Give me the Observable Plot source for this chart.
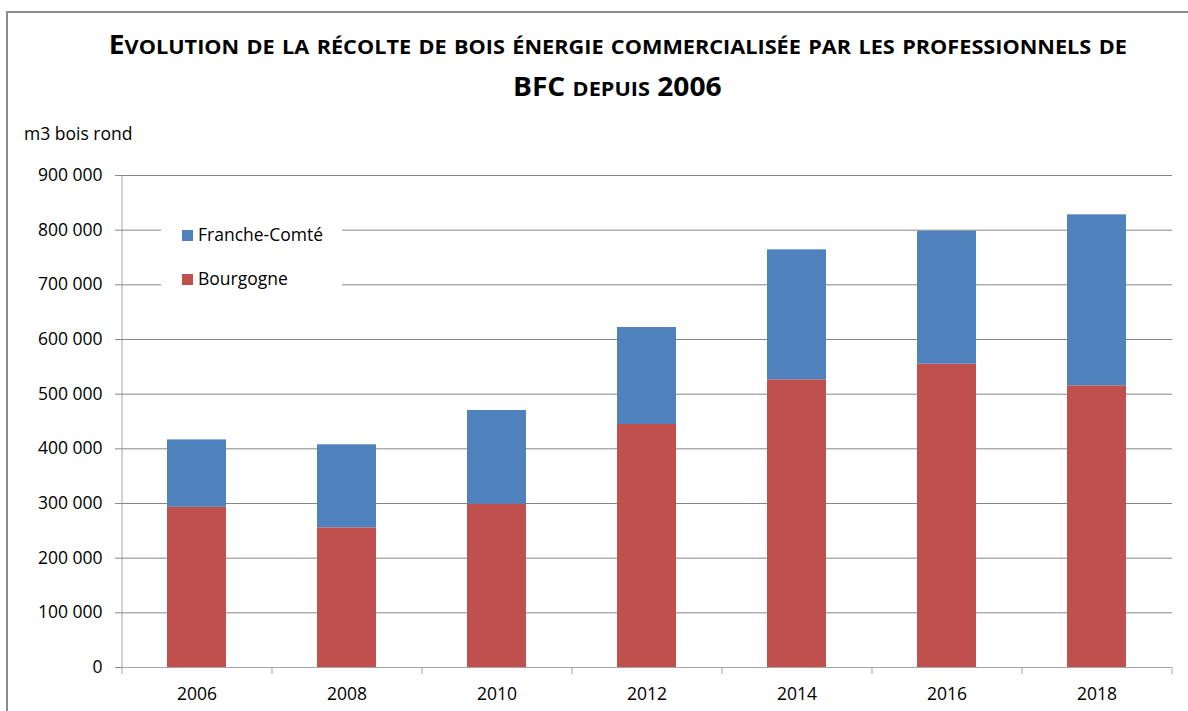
<!DOCTYPE html>
<html>
<head>
<meta charset="utf-8">
<script src="https://cdn.jsdelivr.net/npm/d3@7"></script>
<script src="https://cdn.jsdelivr.net/npm/@observablehq/plot@0.6"></script>
<style>
  body { margin: 0; background: #fff; }
  #wrap { position: relative; width: 1188px; height: 711px; overflow: hidden; font-family: "Open Sans", sans-serif; color: #000; background: #fff; }
  #border { position: absolute; left: 6px; top: 11px; width: 1300px; height: 800px; border-top: 2px solid #8c8c8c; border-left: 2px solid #8c8c8c; }
  .tline { position: absolute; left: 0; width: 1235px; text-align: center; font-weight: 700; font-size: 26px; line-height: 26px; white-space: nowrap; }
  .tline .in { display: inline-block; transform-origin: 50% 50%; }
  .sc { font-size: 0.77em; }
  #ylab { position: absolute; left: 24px; top: 124px; font-size: 17.5px; line-height: 18px; white-space: nowrap; }
  #chart { position: absolute; left: 0; top: 150px; z-index: 1; }
  #legend { position: absolute; left: 161px; top: 212px; width: 181px; height: 84px; background: #fff; z-index: 2; }
  .li { position: absolute; left: 21px; font-size: 17.5px; line-height: 18px; white-space: nowrap; }
  .sw { display: inline-block; width: 11px; height: 11px; margin-right: 5px; vertical-align: 0px; }
</style>
</head>
<body>
<div id="wrap">
  <div id="border"></div>
  <div class="tline" id="t1" style="top:31px"></div>
  <div class="tline" id="t2" style="top:73px"></div>
  <div id="ylab">m3 bois rond</div>
  <div id="chart"></div>
  <div id="legend"></div>
</div>
<script>
// ---- data ----
const years = ["2006", "2008", "2010", "2012", "2014", "2016", "2018"];
const bourgogne = [293000, 255500, 298700, 444500, 526300, 554800, 515300];
const francheComte = [123300, 151900, 171400, 177400, 237700, 243300, 312700];
const regions = ["Franche-Comté", "Bourgogne"];
const colors = ["#4F81BD", "#C0504D"];
const yTicks = [0, 100000, 200000, 300000, 400000, 500000, 600000, 700000, 800000, 900000];
const titleLine1 = "Evolution de la récolte de bois énergie commercialisée par les professionnels de";
const titleLine2 = "BFC depuis 2006";
const yLabel = "m3 bois rond";

// ---- title (Excel-like small caps) ----
function smallCaps(str) {
  let out = "", run = "";
  const flush = () => { if (run) { out += '<span class="sc">' + run.toUpperCase() + '</span>'; run = ""; } };
  for (const ch of str) {
    if (ch !== ch.toUpperCase() && ch === ch.toLowerCase()) run += ch;
    else { flush(); out += ch; }
  }
  flush();
  return out;
}
const t1 = document.getElementById("t1"), t2 = document.getElementById("t2");
t1.innerHTML = '<span class="in">' + smallCaps(titleLine1) + '</span>';
t2.innerHTML = '<span class="in">' + smallCaps(titleLine2) + '</span>';
document.getElementById("ylab").textContent = yLabel;
function fitTitle() {
  const in1 = t1.querySelector(".in"), in2 = t2.querySelector(".in");
  in1.style.transform = ""; in2.style.transform = "";
  const w = in1.getBoundingClientRect().width;
  const s = 1018 / w;
  in1.style.transform = "scaleX(" + s + ")";
  in2.style.transform = "scaleX(" + s + ")";
}
fitTitle();
if (document.fonts && document.fonts.ready) document.fonts.ready.then(fitTitle);

// ---- legend ----
const legend = document.getElementById("legend");
regions.forEach((r, i) => {
  const d = document.createElement("div");
  d.className = "li";
  d.style.top = (13 + i * 44) + "px";
  d.innerHTML = '<span class="sw" style="background:' + colors[i] + '"></span>' + r;
  legend.appendChild(d);
});

// ---- chart ----
const data = [];
years.forEach((y, i) => {
  data.push({year: y, region: "Bourgogne", value: bourgogne[i]});
  data.push({year: y, region: "Franche-Comté", value: francheComte[i]});
});
const fmt = d3.formatLocale({decimal: ",", thousands: " ", grouping: [3], currency: ["", ""]}).format(",");
const grid = "#868686";
const axisCol = "#a6a6a6";

const chart = Plot.plot({
  width: 1188,
  height: 561,
  marginTop: 25,
  marginBottom: 44,
  marginLeft: 122,
  marginRight: 16,
  style: {fontFamily: "Open Sans, sans-serif", fontSize: "17.5px", color: "#000", background: "transparent"},
  x: {domain: years, paddingInner: 0.606, paddingOuter: 0.303, align: 0.5, label: null},
  y: {domain: [0, 900000], label: null},
  color: {domain: regions, range: colors},
  marks: [
    Plot.gridY({ticks: yTicks, stroke: grid, strokeOpacity: 1}),
    Plot.barY(data, {x: "year", y: "value", fill: "region", order: ["Bourgogne", "Franche-Comté"]}),
    Plot.ruleY([0], {stroke: axisCol}),
    Plot.ruleX([years[0]], {stroke: axisCol, dx: -75}),
    Plot.axisY({ticks: yTicks, tickFormat: fmt, tickSize: 7, tickPadding: 13, stroke: grid, label: null}),
    Plot.axisX({tickSize: 7, stroke: axisCol, text: null, dx: -75, label: null}),
    Plot.axisX({ticks: [years[years.length - 1]], tickSize: 7, stroke: axisCol, text: null, dx: 75, label: null}),
    Plot.axisX({tickSize: 0, tickPadding: 20, label: null})
  ]
});
document.getElementById("chart").appendChild(chart);
</script>
</body>
</html>
